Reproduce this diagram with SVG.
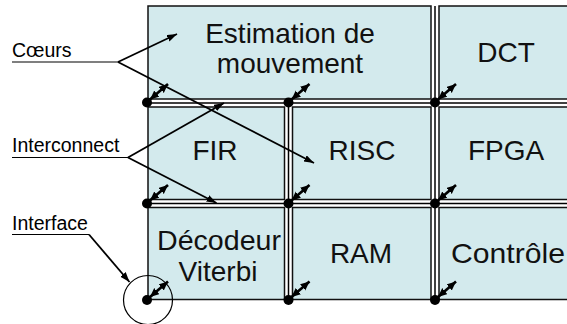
<svg xmlns="http://www.w3.org/2000/svg" width="567" height="324" viewBox="0 0 567 324">
<defs>
<marker id="ah" markerUnits="userSpaceOnUse" markerWidth="11" markerHeight="8" refX="10" refY="3.5" orient="auto-start-reverse" viewBox="0 0 11 8">
<path d="M0,0 L10,3.5 L0,7 z" fill="#000"/>
</marker>
<marker id="dh" markerUnits="userSpaceOnUse" markerWidth="10" markerHeight="9" refX="9" refY="4" orient="auto-start-reverse" viewBox="0 0 10 9">
<path d="M0,0 L9,4 L0,8 z" fill="#000"/>
</marker>
</defs>
<style>
.cell{fill:#D3EAED;stroke:#111;stroke-width:1.5}
.big{font-family:"Liberation Sans",Arial,sans-serif;font-size:28px;fill:#111;text-anchor:middle}
.lab{font-family:"Liberation Sans",Arial,sans-serif;font-size:19.5px;fill:#000}
.bus{stroke:#000;stroke-width:1.5;fill:none}
.ul{stroke:#000;stroke-width:1.2;fill:none}
.arr{stroke:#000;stroke-width:1.8;fill:none;marker-end:url(#ah)}
.dbl{stroke:#000;stroke-width:2.6;fill:none;marker-start:url(#dh);marker-end:url(#dh)}
.dot{fill:#000}
</style>
<rect width="567" height="324" fill="#fff"/>
<g id="estimation"><rect class="cell" x="148" y="6" width="283" height="93"/><text class="big" x="290" y="43">Estimation de</text><text class="big" x="290" y="73">mouvement</text></g>
<g id="dct"><rect class="cell" x="439" y="6" width="140" height="93"/><text class="big" x="506" y="62">DCT</text></g>
<g id="fir"><rect class="cell" x="148" y="107" width="136.5" height="92.5"/><text class="big" x="215" y="160">FIR</text></g>
<g id="risc"><rect class="cell" x="292.5" y="107" width="138.5" height="92.5"/><text class="big" x="362" y="160">RISC</text></g>
<g id="fpga"><rect class="cell" x="439" y="107" width="140" height="92.5"/><text class="big" x="506" y="160">FPGA</text></g>
<g id="decodeur"><rect class="cell" x="148" y="207.5" width="136.5" height="92"/><text class="big" x="219" y="250" textLength="124" lengthAdjust="spacingAndGlyphs">Décodeur</text><text class="big" x="218" y="281">Viterbi</text></g>
<g id="ram"><rect class="cell" x="292.5" y="207.5" width="138.5" height="92"/><text class="big" x="361" y="263">RAM</text></g>
<g id="controle"><rect class="cell" x="439" y="207.5" width="140" height="92"/><text class="big" x="451" y="263" style="text-anchor:start" textLength="114" lengthAdjust="spacingAndGlyphs">Contrôle</text></g>
<g id="interconnect">
<line class="bus" x1="146" y1="103" x2="567" y2="103"/>
<line class="bus" x1="146" y1="203.5" x2="567" y2="203.5"/>
<line class="bus" x1="288.5" y1="103" x2="288.5" y2="299.5"/>
<line class="bus" x1="435" y1="6" x2="435" y2="299.5"/>
</g>
<g id="interfaces">
<circle class="dot" cx="147" cy="102.5" r="5"/><line class="dbl" x1="150" y1="99.5" x2="168" y2="84"/>
<circle class="dot" cx="288.5" cy="102.5" r="5"/><line class="dbl" x1="291.5" y1="99.5" x2="309.5" y2="84"/>
<circle class="dot" cx="435" cy="102.5" r="5"/><line class="dbl" x1="438" y1="99.5" x2="456" y2="84"/>
<circle class="dot" cx="147" cy="203.5" r="5"/><line class="dbl" x1="150" y1="200.5" x2="168" y2="185"/>
<circle class="dot" cx="288.5" cy="203.5" r="5"/><line class="dbl" x1="291.5" y1="200.5" x2="309.5" y2="185"/>
<circle class="dot" cx="435" cy="203.5" r="5"/><line class="dbl" x1="438" y1="200.5" x2="456" y2="185"/>
<circle class="dot" cx="147" cy="300" r="5"/><line class="dbl" x1="150" y1="297" x2="168" y2="281.5"/>
<circle class="dot" cx="288.5" cy="300" r="5"/><line class="dbl" x1="291.5" y1="297" x2="309.5" y2="281.5"/>
<circle class="dot" cx="435" cy="300" r="5"/><line class="dbl" x1="438" y1="297" x2="456" y2="281.5"/>
</g>
<g id="labels">
<text class="lab" x="12" y="57">Cœurs</text>
<text class="lab" x="12" y="152">Interconnect</text>
<text class="lab" x="12" y="230">Interface</text>
</g>
<g id="connectors">
<line class="ul" x1="12" y1="62" x2="118" y2="62"/>
<line class="arr" x1="118" y1="62" x2="177" y2="34"/>
<line class="arr" x1="118" y1="62" x2="314" y2="163"/>
<line class="ul" x1="12" y1="157.5" x2="128" y2="157.5"/>
<line class="arr" x1="128" y1="157.5" x2="224" y2="103"/>
<line class="arr" x1="128" y1="157.5" x2="216.5" y2="203"/>
<line class="ul" x1="12" y1="234.5" x2="89" y2="234.5"/>
<line class="arr" x1="89" y1="234.5" x2="129.5" y2="282"/>
<circle cx="148" cy="300" r="24.5" fill="none" stroke="#000" stroke-width="1.2"/>
</g>
</svg>
